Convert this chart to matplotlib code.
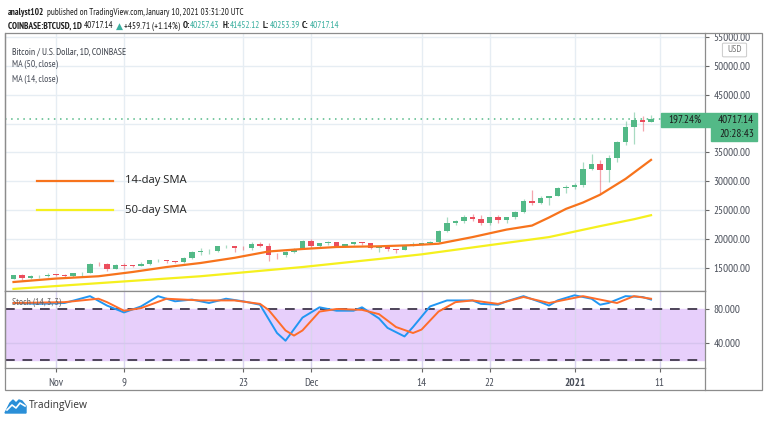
import matplotlib
matplotlib.use('Agg')
import matplotlib.pyplot as plt
from matplotlib.patches import Rectangle, FancyBboxPatch, Polygon

W, H = 768, 421
FAM = ['PT Sans Narrow', 'Carlito', 'Roboto Condensed', 'DejaVu Sans']
WIDE = ['Open Sans', 'Liberation Sans', 'DejaVu Sans']

# day 0 = Nov 1 2020; one candle per day from Oct 27 to Jan 10
days = list(range(-5, 71))
opens = [13040, 13650, 13270, 13460, 13560,
         13800, 13760, 13550, 14030, 14150, 15590, 15580, 14830, 15480, 15330,
         15300, 15700, 16300, 16330, 16070, 15960, 16720, 17660, 17800, 17820,
         18680, 18710, 18430, 18370, 19160, 18730, 17150, 17140, 17720, 18180,
         19700, 18790, 19230, 19450, 18700, 19150, 19370, 19190, 18330, 18560,
         18260, 18050, 18800, 19170, 19280, 19440, 21350, 22800, 23140, 23870,
         23480, 22740, 23820, 23240, 23730, 24710, 26490, 26280, 27080, 27380,
         28880, 28990, 29400, 32200, 33000, 32030, 34030, 36800, 39400, 40600, 40257]
highs = [13790, 13860, 13640, 13670, 14090,
         13900, 13830, 14070, 14250, 15750, 15960, 15780, 15650, 15850, 15460,
         15960, 16340, 16480, 16330, 16140, 16880, 17860, 18480, 18200, 18800,
         18960, 18750, 18770, 19420, 19480, 19340, 17460, 17880, 18350, 19850,
         19920, 19340, 19570, 19530, 19180, 19420, 19420, 19290, 18640, 18560,
         18290, 18950, 19410, 19350, 19570, 21560, 23800, 23280, 24170, 24300,
         24100, 23850, 24100, 23790, 24780, 26870, 28400, 27500, 27400, 28990,
         29300, 29650, 33300, 34800, 33600, 34500, 36950, 40400, 41950, 41380, 41452]
lows = [13000, 12900, 12990, 13120, 13430,
        13620, 13200, 13300, 13530, 14100, 15200, 14350, 14720, 14820, 15080,
        15280, 15450, 15980, 15790, 15870, 15880, 16580, 17250, 17360, 17760,
        18410, 17640, 18000, 18020, 18590, 16200, 16500, 16880, 17540, 18180,
        18330, 18340, 18950, 18570, 18510, 18860, 18920, 18200, 17650, 17930,
        17580, 18020, 18730, 19000, 19060, 19300, 21230, 22350, 22770, 23100,
        22350, 22380, 22700, 22700, 23440, 24500, 25850, 26100, 25880, 27350,
        28000, 28690, 28950, 32000, 27700, 29900, 33400, 36300, 36500, 38720, 40253]
closes = [13650, 13270, 13460, 13560, 13800,
          13760, 13550, 14030, 14150, 15590, 15580, 14830, 15480, 15330, 15300,
          15700, 16300, 16330, 16070, 15960, 16720, 17660, 17800, 17820, 18680,
          18710, 18430, 18370, 19160, 18730, 17150, 17140, 17720, 18180, 19700,
          18790, 19230, 19450, 18700, 19150, 19370, 19190, 18330, 18560, 18260,
          18050, 18800, 19170, 19280, 19440, 21350, 22800, 23140, 23870, 23480,
          22740, 23820, 23240, 23730, 24710, 26490, 26280, 27080, 27380, 28880,
          28990, 29400, 32200, 33000, 32030, 34030, 36800, 39400, 40600, 40257, 40717]

# moving averages
ma14_days = [-5, 0, 5, 9, 13, 17, 21, 25, 29, 33, 38, 42, 45, 49, 53, 56, 58, 60, 62, 64, 67, 70]
ma14_vals = [12500, 13100, 13500, 14240, 15100, 15800, 16700, 17800, 18230, 18580, 18700,
             18900, 19150, 20300, 21600, 22300, 23700, 25200, 26300, 27650, 30400, 33700]
ma50_days = [-5, 5, 17, 29, 38, 43, 50, 58, 64, 68, 70]
ma50_vals = [11300, 12300, 13500, 15100, 16500, 17300, 18700, 20300, 22200, 23400, 24100]

# stochastic (14, 3, 3)
k_days = [-5, -2, 1, 4, 6, 8, 10, 12, 14, 16, 18, 20, 22, 24, 26, 27, 29, 31, 33, 35, 36,
          38, 39, 41, 42, 44, 46, 49, 50, 52, 53, 55, 57, 58, 59, 61, 63, 64, 65, 67, 69, 70]
k_vals = [87, 86, 87, 95, 84, 76, 83, 95, 89, 91, 87, 92, 89, 85, 52, 43, 70, 82, 78, 78, 82,
          69, 58, 48, 59, 83, 90, 90, 86, 85, 89, 95, 88, 84, 90, 96, 92, 85, 87, 95, 94, 91]
d_days = [-5, 1, 5, 6, 8, 10, 13, 17, 21, 24, 25, 27, 28, 29, 31, 33, 36, 38, 40, 42, 43,
          45, 47, 49, 52, 55, 58, 62, 64, 66, 68, 70]
d_vals = [87, 88, 92, 88, 78, 81, 92, 90, 90, 86, 79, 55, 49, 55, 77, 80, 79, 74, 59, 52, 56,
          77, 88, 90, 86, 94, 87, 95, 91, 87, 95, 92]

tick_days = [0, 8, 22, 30, 43, 51, 61, 71]
tick_labels = ['Nov', '9', '23', 'Dec', '14', '22', '2021', '11']
price_ticks = [15000, 20000, 25000, 30000, 35000, 40000, 45000, 50000, 55000]
last_price = 40717.14

UP, DOWN = '#53b987', '#eb4d5c'
GRID = '#e6edf3'
TXT = '#4a4f5a'


def fx(x):
    return x / W


def fy(y):
    return 1 - y / H


fig = plt.figure(figsize=(7.68, 4.21), dpi=100)
rend = fig.canvas.get_renderer()


def put_row(x_px, y_px, parts, size, target=None, family=FAM):
    # lay text pieces side by side; optionally rescale so the row spans target px
    texts, x = [], x_px
    for s, col, wt, gap in parts:
        t = fig.text(fx(x), fy(y_px), s, color=col, fontsize=size, fontweight=wt,
                     va='center', ha='left', family=family)
        texts.append(t)
        x += t.get_window_extent(renderer=rend).width + gap
    if target is None:
        return size
    for t in texts:
        t.remove()
    size = size * target / (x - x_px)
    put_row(x_px, y_px, parts, size, family=family)
    return size


# ---- main price panel
ax = fig.add_axes([fx(5), fy(291), fx(700), 258 / H])
ax.set_xlim(-6.0, 76.35)
ax.set_ylim(10940, 55729)
for d in tick_days:
    ax.axvline(d, color=GRID, lw=1, zorder=0)
for p in price_ticks:
    ax.axhline(p, color=GRID, lw=1, zorder=0)

for d, o, h, l, c in zip(days, opens, highs, lows, closes):
    col = UP if c >= o else DOWN
    ax.vlines(d, l, h, color=col, lw=0.9, alpha=0.5, zorder=2)
    ax.bar(d, max(abs(c - o), 90), bottom=min(o, c), width=0.68, color=col, zorder=3)

ax.plot(ma14_days, ma14_vals, color='#f7731c', lw=1.6, zorder=4)
ax.plot(ma50_days, ma50_vals, color='#f5f01e', lw=1.6, zorder=4)
ax.axhline(last_price, color=UP, lw=1.1, ls=(0, (1, 3)), zorder=1)

ax.yaxis.tick_right()
ax.set_yticks(price_ticks)
ax.set_yticklabels(['%.2f' % p if p != 40000 else '' for p in price_ticks])
ax.tick_params(axis='y', length=3, width=0.8, color='#666666', labelsize=8, labelcolor=TXT, pad=3)
ax.set_xticks([])
for sp in ax.spines.values():
    sp.set_color('#8c8c8c')
    sp.set_linewidth(0.9)
ax.spines['top'].set_visible(False)
for lbl in ax.get_yticklabels():
    lbl.set_family(FAM)

lab_size = put_row(12.5, 52, [('Bitcoin / U.S. Dollar, 1D, COINBASE', '#3a3f48', 'normal', 0)], 8, target=114)
put_row(12.5, 64.5, [('MA (50, close)', TXT, 'normal', 0)], lab_size)
put_row(12.5, 79, [('MA (14, close)', TXT, 'normal', 0)], lab_size)

# hand drawn legend
fig.add_artist(plt.Line2D([fx(37), fx(113)], [fy(181), fy(181)], color='#f7731c', lw=1.6))
fig.add_artist(plt.Line2D([fx(37), fx(113)], [fy(210), fy(210)], color='#f5f01e', lw=1.6))
put_row(125, 181, [('14-day SMA', '#222222', 'normal', 0)], 8, target=62, family=WIDE)
put_row(125, 210, [('50-day SMA', '#222222', 'normal', 0)], 8, target=62, family=WIDE)

# price labels on the right
fig.patches.append(Rectangle((fx(661), fy(127)), fx(44), 14 / H, color=UP, transform=fig.transFigure))
fig.patches.append(Rectangle((fx(705), fy(127)), fx(52), 14 / H, color=UP, transform=fig.transFigure))
fig.patches.append(Rectangle((fx(711), fy(141)), fx(46), 14 / H, color=UP, transform=fig.transFigure))
fig.text(fx(702), fy(120), '197.24%', fontsize=8, color='#1b1b1b', ha='right', va='center', family=FAM)
fig.text(fx(754), fy(120), '%.2f' % last_price, fontsize=8, color='#1b1b1b', ha='right', va='center', family=FAM)
fig.text(fx(754), fy(134), '20:28:43', fontsize=8, color='#1b1b1b', ha='right', va='center', family=FAM)
fig.patches.append(FancyBboxPatch((fx(724), fy(56)), fx(21), 12 / H, boxstyle='round,pad=0.002',
                                  fc='white', ec='#cfcfcf', lw=0.8, transform=fig.transFigure))
fig.text(fx(734.5), fy(50), 'USD', fontsize=7, color='#777777', ha='center', va='center', family=FAM)

# ---- stochastic panel
sx = fig.add_axes([fx(5), fy(368), fx(700), 77 / H])
sx.set_xlim(-6.0, 76.35)
sx.set_ylim(11.2, 101)
sx.axhspan(20, 80, color='#e7cffb', zorder=0)
for d in tick_days:
    sx.axvline(d, color='#d9d4ee', lw=1, zorder=1)
sx.axhline(40, color='#d6c4ee', lw=1, zorder=1)
sx.axhline(80, color='#4d4459', lw=1.4, ls=(0, (5, 4)), zorder=2)
sx.axhline(20, color='#4d4459', lw=1.4, ls=(0, (5, 4)), zorder=2)
sx.plot(k_days, k_vals, color='#2196f3', lw=1.4, zorder=3)
sx.plot(d_days, d_vals, color='#ff6d2a', lw=1.4, zorder=4)
put_row(12, 302, [('Stoch (14, 3, 3)', '#666666', 'normal', 0)], lab_size)

sx.yaxis.tick_right()
sx.set_yticks([40, 80])
sx.set_yticklabels(['40.000', '80.000'])
sx.tick_params(axis='y', length=3, width=0.8, color='#666666', labelsize=8, labelcolor=TXT, pad=3)
sx.set_xticks(tick_days)
sx.set_xticklabels(tick_labels)
sx.tick_params(axis='x', length=3, width=0.8, color='#666666', labelsize=8, labelcolor=TXT, pad=4)
for lbl in sx.get_xticklabels() + sx.get_yticklabels():
    lbl.set_family(FAM)
sx.get_xticklabels()[6].set_fontweight('bold')
for sp in sx.spines.values():
    sp.set_color('#8c8c8c')
    sp.set_linewidth(0.9)

# outer frame and separators
fig.patches.append(Rectangle((fx(5), fy(390)), fx(757), 357 / H, fill=False, ec='#8c8c8c', lw=0.9,
                             transform=fig.transFigure))
fig.add_artist(plt.Line2D([fx(705), fx(705)], [fy(368), fy(390)], color='#8c8c8c', lw=0.9))

# ---- header lines
TEAL = '#3aaf9f'
DARK = '#1e1e1e'
put_row(8, 12.5, [('analyst102', DARK, 'bold', 2.5),
                  ('published on TradingView.com, January 10, 2021 03:31:20 UTC', DARK, 'normal', 0)],
        8, target=235)
put_row(8, 26, [('COINBASE:BTCUSD, 1D', DARK, 'bold', 2.5),
                ('40717.14', DARK, 'normal', 1.5),
                ('\u25b2', TEAL, 'normal', 1.5),
                ('+459.71 (+1.14%)', DARK, 'normal', 2.5),
                ('O:', DARK, 'bold', 0.5), ('40257.43', TEAL, 'normal', 2.5),
                ('H:', DARK, 'bold', 0.5), ('41452.12', TEAL, 'normal', 2.5),
                ('L:', DARK, 'bold', 0.5), ('40253.39', TEAL, 'normal', 2.5),
                ('C:', DARK, 'bold', 0.5), ('40717.14', TEAL, 'normal', 0)], 8, target=328)

# ---- TradingView mark at the bottom
logo = [(5, 413), (10, 403), (13, 400), (16, 403), (19, 400), (22, 401), (26, 406), (26, 413)]
fig.patches.append(Polygon([(fx(a), fy(b)) for a, b in logo], closed=True, color='#2a8fd8',
                           transform=fig.transFigure))
fig.add_artist(plt.Line2D([fx(7), fx(12), fx(16), fx(20), fx(25)],
                          [fy(410), fy(405), fy(408), fy(403), fy(406)], color='white', lw=1.2))
put_row(28.5, 405.5, [('TradingView', '#333333', 'normal', 0)], 8, target=59, family=WIDE)

fig.savefig('out.png', dpi=100)
